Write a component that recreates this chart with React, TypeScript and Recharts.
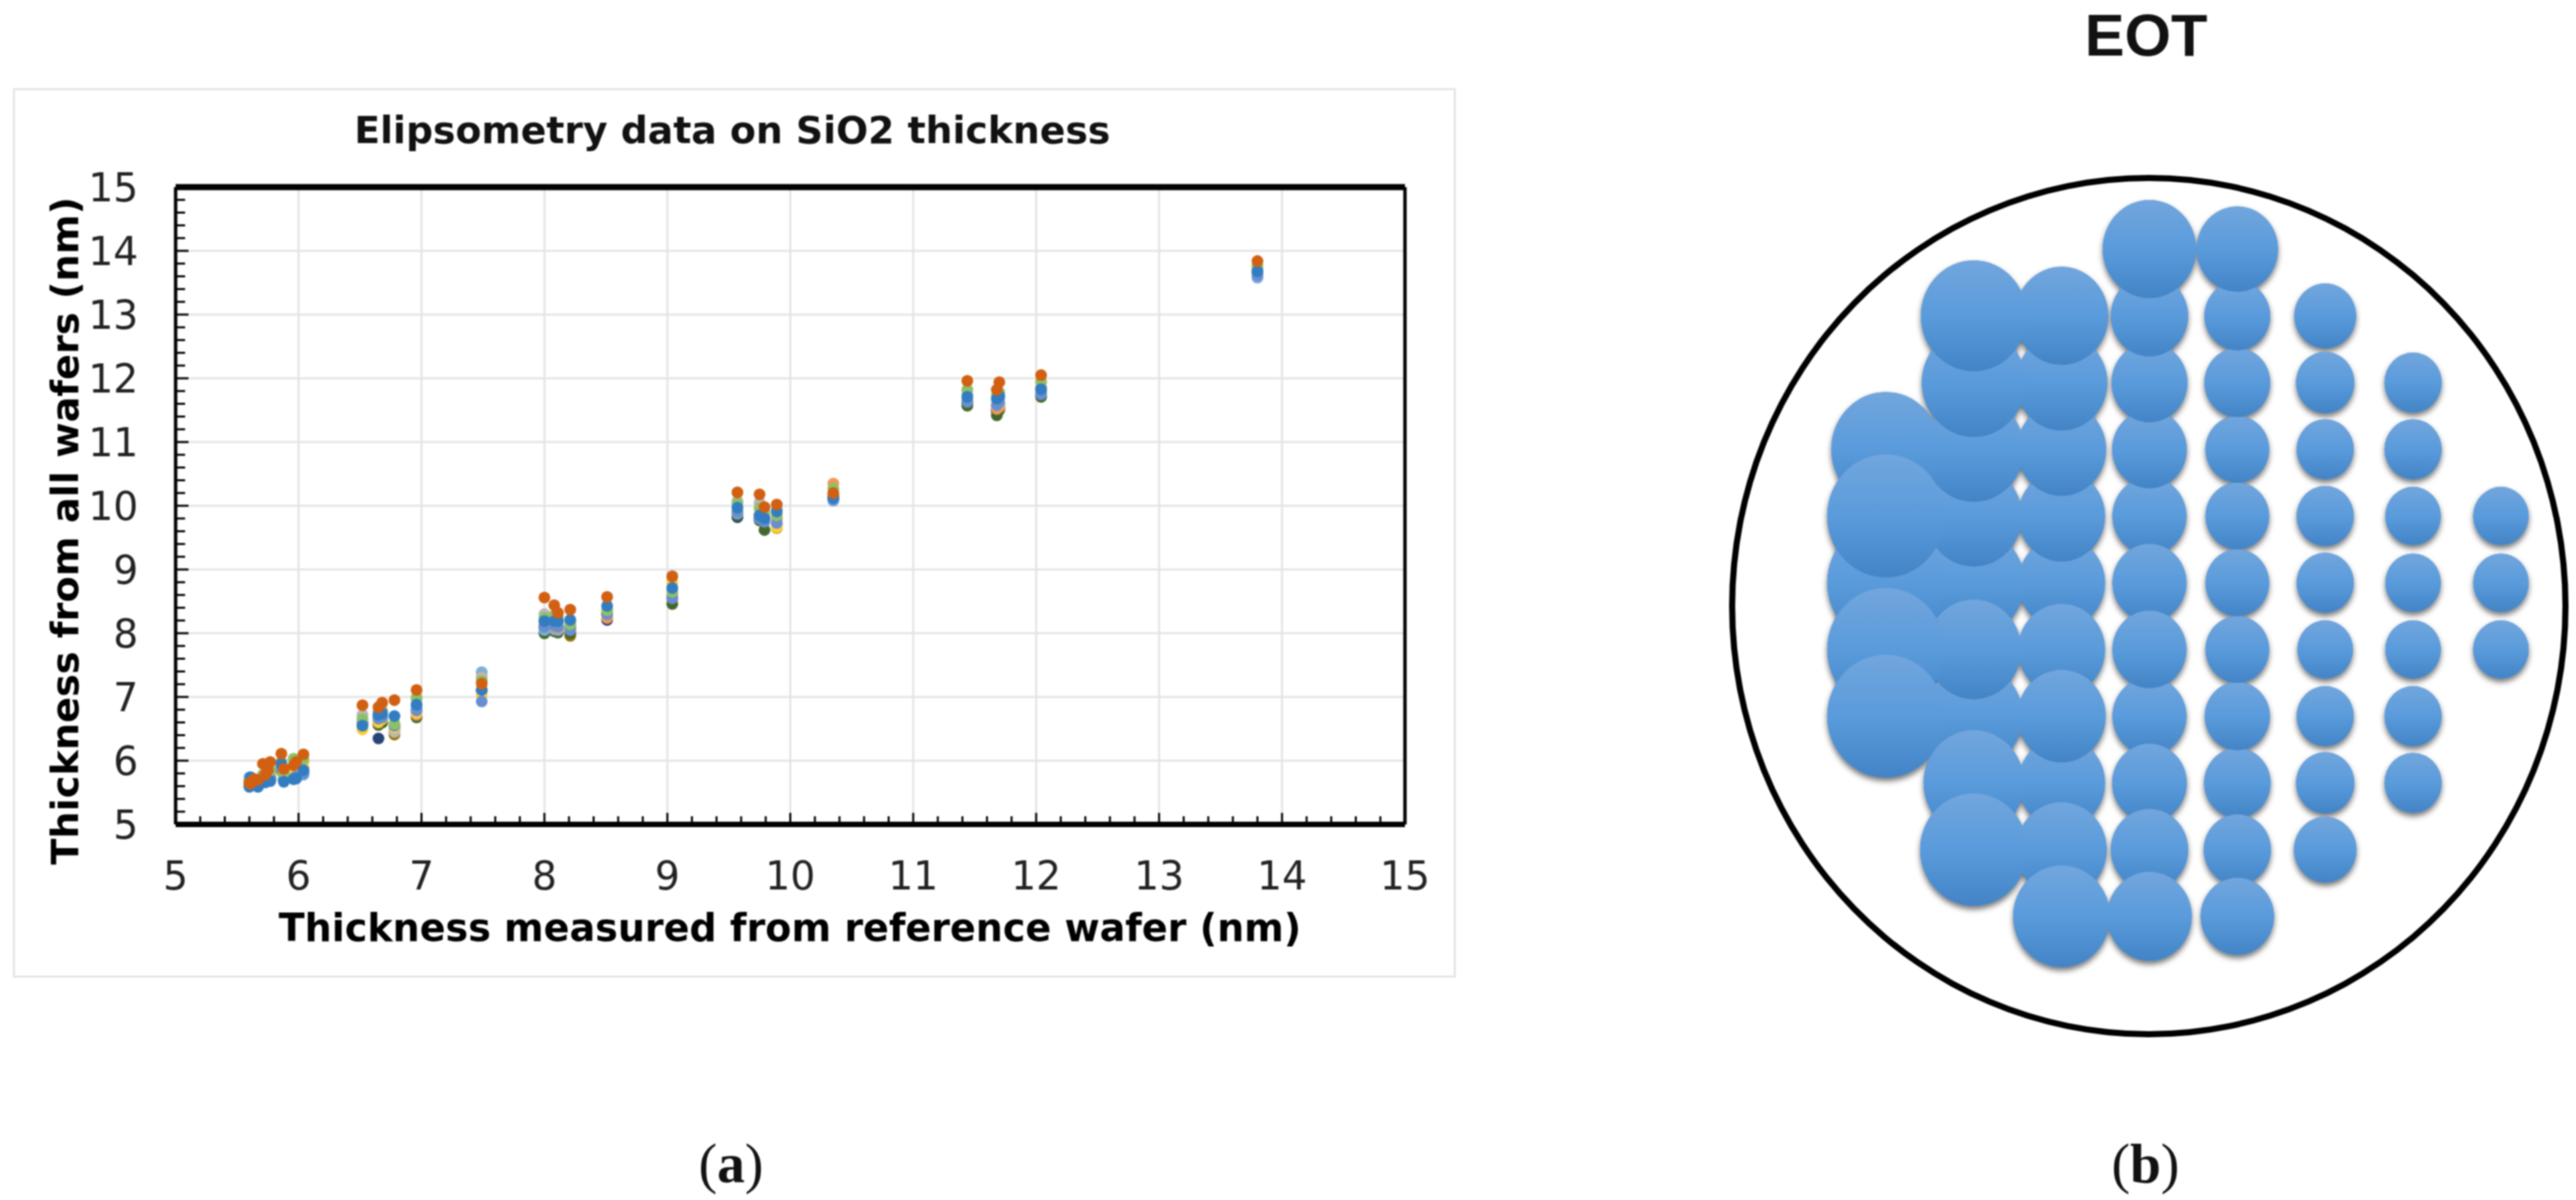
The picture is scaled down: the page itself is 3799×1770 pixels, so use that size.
import React from 'react';
import { ScatterChart, Scatter, XAxis, YAxis, ZAxis, CartesianGrid, ReferenceLine } from 'recharts';

// panel (a): thickness on the reference wafer, one value per column of dots
const refThickness = [5.6, 5.61, 5.64, 5.67, 5.71, 5.73, 5.75, 5.77, 5.86, 5.88, 5.96, 5.98, 6.04, 6.52, 6.65, 6.68, 6.78, 6.96, 7.49, 8.0, 8.08, 8.11, 8.21, 8.51, 9.04, 9.57, 9.75, 9.79, 9.89, 10.35, 11.44, 11.68, 11.7, 12.04, 13.8];

const wafer10 = [5.66, 5.68, 5.68, 5.66, 5.72, 5.7, 5.74, 5.74, 5.88, 5.72, 5.75, 5.78, 5.83, 6.55, 6.6, 6.6, 6.41, 6.75, 7.1, 8.1, 8.05, 8.05, 7.96, 8.3, 8.6, 9.9, 9.85, 9.8, 9.65, 10.15, 11.63, 11.5, 11.5, 11.8, 13.7];
const wafer11 = [5.63, 5.65, 5.65, 5.63, 5.69, 5.69, 5.71, 5.71, 5.86, 5.7, 5.73, 5.75, 5.81, 6.6, 6.35, 6.62, 6.55, 6.8, 7.1, 8.1, 8.1, 8.1, 8.1, 8.21, 8.55, 9.82, 9.8, 9.8, 9.8, 10.15, 11.61, 11.49, 11.55, 11.74, 13.66];
const wafer12 = [5.62, 5.64, 5.64, 5.62, 5.68, 5.68, 5.7, 5.7, 5.84, 5.7, 5.72, 5.74, 5.8, 6.58, 6.56, 6.6, 6.48, 6.68, 7.1, 8.0, 8.03, 8.01, 8.0, 8.3, 8.46, 9.85, 9.77, 9.62, 9.72, 10.12, 11.57, 11.42, 11.52, 11.71, 13.65];
const wafer13 = [5.74, 5.72, 5.68, 5.64, 5.72, 5.7, 5.72, 5.74, 5.9, 5.72, 5.74, 5.78, 5.78, 6.62, 6.65, 6.66, 6.52, 6.85, 7.39, 8.05, 8.06, 8.05, 8.08, 8.27, 8.58, 9.88, 9.8, 9.77, 9.7, 10.08, 11.65, 11.56, 11.58, 11.77, 13.58];
const wafer14 = [5.66, 5.68, 5.7, 5.68, 5.74, 5.74, 5.76, 5.8, 5.92, 5.76, 5.8, 5.84, 5.88, 6.6, 6.7, 6.7, 6.49, 6.72, 7.31, 8.12, 8.1, 8.08, 8.1, 8.24, 8.6, 9.92, 9.85, 9.8, 9.8, 10.35, 11.68, 11.52, 11.55, 11.85, 13.75];
const wafer15 = [5.66, 5.7, 5.68, 5.66, 5.72, 5.72, 5.74, 5.76, 5.9, 5.74, 5.78, 5.8, 5.84, 6.72, 6.76, 6.78, 6.45, 6.96, 7.3, 8.3, 8.25, 8.2, 8.18, 8.34, 8.9, 10.07, 10.05, 9.85, 9.95, 10.15, 11.75, 11.66, 11.7, 11.85, 13.72];
const wafer16 = [5.64, 5.68, 5.68, 5.66, 5.76, 5.72, 5.78, 5.82, 5.85, 5.78, 5.85, 5.9, 5.97, 6.49, 6.6, 6.65, 6.52, 6.75, 7.04, 8.14, 8.12, 8.1, 8.19, 8.39, 8.79, 9.9, 9.82, 9.78, 9.66, 10.18, 11.66, 11.58, 11.6, 11.93, 13.78];
const wafer17 = [5.62, 5.66, 5.64, 5.62, 5.68, 5.68, 5.7, 5.72, 5.86, 5.7, 5.72, 5.75, 5.8, 6.58, 6.66, 6.68, 6.55, 6.79, 6.93, 8.1, 8.12, 8.1, 8.05, 8.3, 8.55, 9.9, 9.8, 9.75, 9.73, 10.1, 11.63, 11.58, 11.62, 11.75, 13.61];
const wafer18 = [5.68, 5.7, 5.7, 5.68, 5.78, 5.75, 5.8, 5.85, 5.98, 5.8, 6.03, 6.02, 6.02, 6.65, 6.77, 6.78, 6.58, 6.99, 7.25, 8.24, 8.28, 8.25, 8.14, 8.36, 8.65, 10.04, 9.96, 9.9, 9.85, 10.27, 11.82, 11.73, 11.78, 11.95, 13.76];
const wafer19 = [5.59, 5.74, 5.62, 5.59, 5.7, 5.66, 5.68, 5.68, 5.95, 5.67, 5.71, 5.72, 5.85, 6.55, 6.72, 6.74, 6.7, 6.88, 7.11, 8.19, 8.19, 8.19, 8.21, 8.43, 8.71, 9.97, 9.85, 9.8, 9.91, 10.12, 11.71, 11.68, 11.72, 11.83, 13.68];
const wafer20 = [5.65, 5.64, 5.71, 5.7, 5.95, 5.78, 5.85, 5.98, 6.11, 5.87, 5.93, 5.98, 6.1, 6.87, 6.84, 6.91, 6.95, 7.11, 7.21, 8.56, 8.44, 8.32, 8.37, 8.57, 8.89, 10.21, 10.18, 9.98, 10.02, 10.2, 11.96, 11.82, 11.94, 12.05, 13.84];

const waferSeries = [wafer10, wafer11, wafer12, wafer13, wafer14, wafer15, wafer16, wafer17, wafer18, wafer19, wafer20];
const waferColors = ['#997300', '#264478', '#43682B', '#7CAFDD', '#F1975A', '#B7B7B7', '#FFCD33', '#698ED0', '#8CC168', '#327DC2', '#D26012'];

const majorTicks = [5, 6, 7, 8, 9, 10, 11, 12, 13, 14, 15];
const allTicks = majorTicks.flatMap((t) => (t === 15 ? [t] : [t, t + 0.2, t + 0.4, t + 0.6, t + 0.8]));

// panel (b): per column of the wafer map, [row, eot] in painting order (later is on top)
const eotColumns = [8, 7, 6, 5, 4, 3, 2, 1];
const eotSites = [
  [[5, 0.67], [6, 0.67], [7, 0.67]],
  [[3, 0.71], [4, 0.71], [5, 0.67], [6, 0.67], [7, 0.67], [8, 0.71], [9, 0.71]],
  [[2, 0.83], [3, 0.74], [4, 0.71], [5, 0.71], [6, 0.71], [7, 0.67], [8, 0.71], [9, 0.74], [10, 0.85]],
  [[5, 0.88], [4, 0.88], [3, 0.94], [2, 0.94], [1, 1.44], [6, 0.88], [9, 0.96], [8, 0.92], [7, 0.88], [10, 0.98], [11, 1.17]],
  [[5, 1.19], [4, 1.21], [3, 1.25], [2, 1.3], [1, 1.9], [6, 1.19], [8, 1.19], [7, 1.19], [9, 1.21], [10, 1.3], [11, 1.56]],
  [[6, 1.64], [5, 1.64], [4, 1.72], [3, 1.82], [2, 1.9], [7, 1.64], [9, 1.64], [8, 1.69], [10, 1.77], [11, 2.04]],
  [[6, 2.25], [5, 2.02], [4, 2.19], [3, 2.34], [2, 2.43], [8, 2.1], [7, 1.96], [9, 2.19], [10, 2.5]],
  [[4, 2.59], [6, 2.99], [5, 2.99], [7, 2.99], [8, 2.99]],
];

const eotPoints = eotColumns.flatMap((col, i) => eotSites[i].map(([row, eot]) => ({ col, row, eot })));

const numberFont = '"DejaVu Sans", sans-serif';

const XTick = ({ x, y, payload }: any) => {
  const major = Number.isInteger(payload.value);
  return (
    <g>
      <line x1={x} x2={x} y1={y} y2={y - (major ? 17 : 12)} stroke="#000" strokeWidth={3} />
      {major && (
        <text x={x} y={y + 96} textAnchor="middle" fontFamily={numberFont} fontSize={58} fill="#222">
          {payload.value}
        </text>
      )}
    </g>
  );
};

const YTick = ({ x, y, payload }: any) => {
  const major = Number.isInteger(payload.value);
  return (
    <g>
      <line x1={x} x2={x + (major ? 19 : 14)} y1={y} y2={y} stroke="#000" strokeWidth={3} />
      {major && (
        <text x={x - 55} y={y + 21} textAnchor="end" fontFamily={numberFont} fontSize={58} fill="#222">
          {payload.value}
        </text>
      )}
    </g>
  );
};

const WaferDot = ({ cx, cy, fill }: any) => <circle cx={cx} cy={cy} r={8.7} fill={fill} />;

const BubbleShadow = ({ cx, cy, width }: any) => (
  <ellipse cx={cx} cy={cy} rx={width / 2} ry={(width / 2) * 1.05} fill="#4384C6" filter="url(#bubbleShadow)" />
);

const Bubble = ({ cx, cy, width }: any) => (
  <ellipse cx={cx} cy={cy} rx={width / 2} ry={(width / 2) * 1.05} fill="url(#bubbleFill)" />
);

const App = () => {
  return (
    <div style={{ position: 'absolute', left: 0, top: 0, width: 3799, height: 1770, overflow: 'hidden', background: '#fff', filter: 'blur(0.9px)' }}>
      <div style={{ position: 'absolute', left: 19, top: 130, width: 2122, height: 1306, border: '3px solid #E4E4E4' }} />

      <div style={{ position: 'absolute', left: 0, top: 0 }}>
        <ScatterChart width={2160} height={1500} margin={{ top: 276, right: 88, left: 159, bottom: 184 }}>
          <CartesianGrid stroke="#E4E4E4" strokeWidth={3} horizontalValues={majorTicks} verticalValues={majorTicks} />
          <XAxis
            type="number"
            dataKey="x"
            domain={[5, 15]}
            ticks={allTicks}
            interval={0}
            height={100}
            tickSize={0}
            tickMargin={0}
            tickLine={false}
            tick={<XTick />}
            axisLine={{ stroke: '#000', strokeWidth: 8 }}
          />
          <YAxis
            type="number"
            dataKey="y"
            domain={[5, 15]}
            ticks={allTicks}
            interval={0}
            width={100}
            tickSize={0}
            tickMargin={0}
            tickLine={false}
            tick={<YTick />}
            axisLine={{ stroke: '#000', strokeWidth: 5 }}
          />
          <ReferenceLine y={15} stroke="#000" strokeWidth={9} />
          <ReferenceLine x={15} stroke="#000" strokeWidth={5} />
          {waferSeries.map((ys, i) => (
            <Scatter
              key={i}
              data={refThickness.map((x, j) => ({ x, y: ys[j] }))}
              fill={waferColors[i]}
              shape={<WaferDot />}
              isAnimationActive={false}
            />
          ))}
          <text x={1080} y={211} textAnchor="middle" fontFamily={numberFont} fontWeight="bold" fontSize={55} textLength={1115} lengthAdjust="spacingAndGlyphs" fill="#111">
            Elipsometry data on SiO2 thickness
          </text>
          <text x={1165} y={1388} textAnchor="middle" fontFamily={numberFont} fontWeight="bold" fontSize={57} textLength={1508} lengthAdjust="spacingAndGlyphs" fill="#000">
            Thickness measured from reference wafer (nm)
          </text>
          <text transform="translate(115 783) rotate(-90)" textAnchor="middle" fontFamily={numberFont} fontWeight="bold" fontSize={56} textLength={985} lengthAdjust="spacingAndGlyphs" fill="#000">
            Thickness from all wafers (nm)
          </text>
        </ScatterChart>
      </div>

      <div style={{ position: 'absolute', left: 2550, top: 258, width: 1220, height: 1254, border: '9px solid #000', borderRadius: '50%' }} />

      <div style={{ position: 'absolute', left: 2522, top: 269 }}>
        <ScatterChart width={1270} height={1181} margin={{ top: 0, right: 0, left: 0, bottom: 0 }}>
          <defs>
            <linearGradient id="bubbleFill" x1="0" y1="0" x2="0" y2="1">
              <stop offset="0%" stopColor="#72A6DD" />
              <stop offset="50%" stopColor="#5A9BDC" />
              <stop offset="100%" stopColor="#4384C6" />
            </linearGradient>
            <filter id="bubbleShadow" x="-20%" y="-20%" width="140%" height="140%">
              <feDropShadow dx="0" dy="5" stdDeviation="4" floodColor="#000" floodOpacity="0.55" />
            </filter>
          </defs>
          <XAxis type="number" dataKey="col" domain={[-1, 8.8]} hide />
          <YAxis type="number" dataKey="row" domain={[0, 12]} reversed hide />
          <ZAxis type="number" dataKey="eot" domain={[0, 3]} range={[0, 23562]} />
          <Scatter data={eotPoints} shape={<BubbleShadow />} isAnimationActive={false} />
          <Scatter data={eotPoints} shape={<Bubble />} isAnimationActive={false} />
        </ScatterChart>
      </div>

      <div style={{ position: 'absolute', left: 2965, top: 0, width: 400, textAlign: 'center', fontFamily: '"Liberation Sans", sans-serif', fontWeight: 'bold', fontSize: 88, lineHeight: '104px', color: '#111' }}>
        EOT
      </div>
      <div style={{ position: 'absolute', left: 878, top: 1670, width: 400, textAlign: 'center', fontFamily: '"Liberation Serif", serif', fontSize: 82, lineHeight: '94px', color: '#111' }}>
        (<b>a</b>)
      </div>
      <div style={{ position: 'absolute', left: 2964, top: 1670, width: 400, textAlign: 'center', fontFamily: '"Liberation Serif", serif', fontSize: 82, lineHeight: '94px', color: '#111' }}>
        (<b>b</b>)
      </div>
    </div>
  );
};

export default App;
